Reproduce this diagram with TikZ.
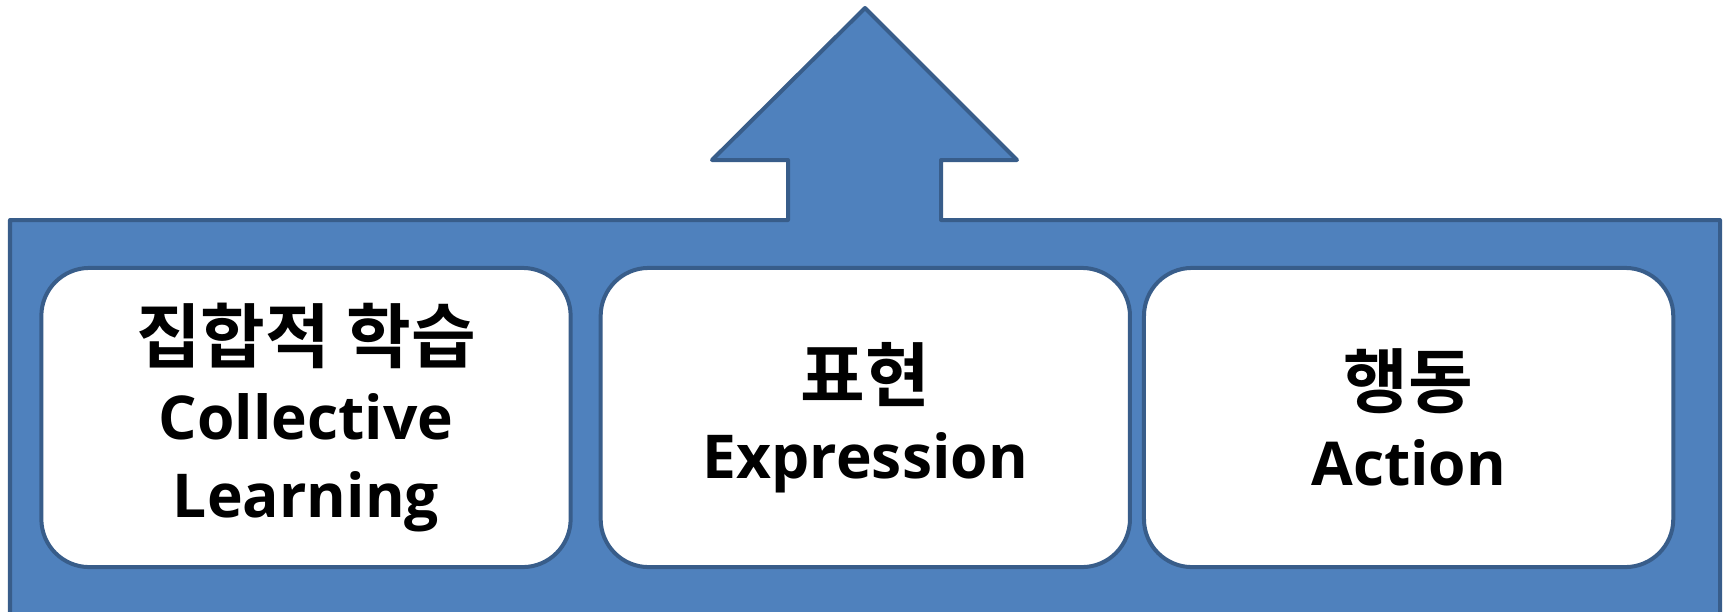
\documentclass[tikz,border=0pt]{standalone}
\usepackage{fontspec}
\setmainfont{Open Sans}
\newfontfamily\krfont{Noto Sans CJK KR}[BoldFont=* Bold]
\usetikzlibrary{positioning}
\definecolor{boxblue}{HTML}{4F81BD}
\definecolor{edgeblue}{HTML}{385D8A}
\newcommand{\kr}[1]{{\krfont\fontsize{20}{22}\selectfont #1}}

\begin{document}
\begin{tikzpicture}[x=0.01cm, y=-0.01cm,
    stage/.style={draw=edgeblue, line width=0.04cm, fill=white,
        rounded corners=0.48cm, minimum width=5.29cm, minimum height=2.99cm,
        align=center, inner sep=0pt,
        font=\bfseries\fontsize{17.2}{22}\selectfont},
    ]
    \useasboundingbox (0,0) rectangle (1729,611);
    \clip (0,0) rectangle (1729,611);
    % base panel with the up arrow
    \draw[edgeblue, line width=0.04cm, fill=boxblue, line join=round]
    (10,650) -- (10,220) -- (788,220) -- (788,160) -- (712,160) -- (865,8)
    -- (1017,160) -- (941,160) -- (941,220) -- (1720,220) -- (1720,650);
    % the three stages
    \node[stage] (learning) at (306,417.5)
    {\kr{집합적 학습}\\Collective\\Learning};
    \node[stage, right=0.26cm of learning] (expression)
    {\kr{표현}\\Expression};
    \node[stage, right=0.10cm of expression] (action)
    {\kr{행동}\\Action};
\end{tikzpicture}
\end{document}
